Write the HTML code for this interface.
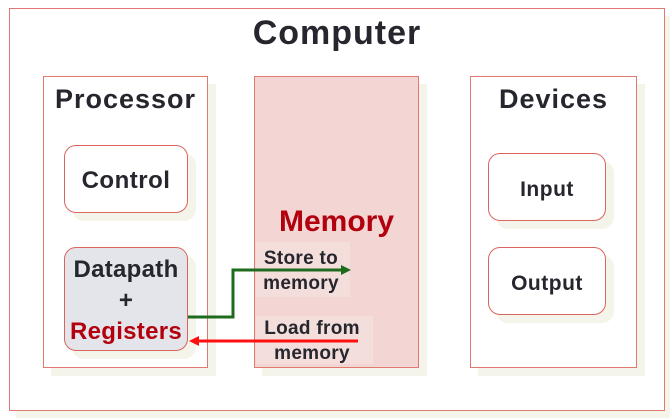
<!DOCTYPE html>
<html><head><style>
body{margin:0;width:672px;height:418px;background:#fff;position:relative;overflow:hidden;font-family:"Liberation Sans",sans-serif;font-weight:bold;color:#26262e}
.a{position:absolute;box-sizing:border-box}
.sh{background:#f4f4ea}
.bx{border:1.5px solid #e07a70;background:#fff}
.rb{border:1.5px solid #d9655d;border-radius:12px;background:#fff;text-align:center}
.t{position:absolute;text-align:center;white-space:nowrap}
</style></head><body>
<div class="a sh" style="left:16px;top:16px;width:654px;height:402px"></div>
<div class="a bx" style="left:9px;top:8px;width:656px;height:403px"></div>
<div class="t" style="left:9px;width:656px;top:14px;font-size:34px;letter-spacing:1px">Computer</div>

<div class="a sh" style="left:51px;top:84px;width:165px;height:292px"></div>
<div class="a bx" style="left:43px;top:76px;width:165px;height:292px"></div>
<div class="t" style="left:43px;width:165px;top:84px;font-size:27px;letter-spacing:1px">Processor</div>

<div class="a sh" style="left:262px;top:84px;width:165px;height:292px"></div>
<div class="a bx" style="left:254px;top:76px;width:165px;height:292px;background:#f3d6d3"></div>
<div class="a" style="left:256px;top:242px;width:94px;height:55px;background:#f4dedb"></div>
<div class="a" style="left:256px;top:316px;width:117px;height:48px;background:#f4dedb"></div>
<div class="t" style="left:254px;width:165px;top:205px;font-size:30px;color:#b3000e">Memory</div>

<div class="a sh" style="left:478px;top:84px;width:167px;height:292px"></div>
<div class="a bx" style="left:470px;top:76px;width:167px;height:292px"></div>
<div class="t" style="left:470px;width:167px;top:84px;font-size:27px;letter-spacing:1px">Devices</div>

<div class="a sh" style="left:72px;top:153px;width:124px;height:68px;border-radius:12px"></div>
<div class="a rb" style="left:64px;top:145px;width:124px;height:68px;font-size:24px;line-height:70px;letter-spacing:0.5px">Control</div>

<div class="a sh" style="left:72px;top:255px;width:124px;height:104px;border-radius:12px"></div>
<div class="a rb" style="left:64px;top:247px;width:124px;height:104px;background:#e3e5ea;font-size:24px;line-height:31px;padding-top:6px;letter-spacing:0.3px">Datapath<br>+<br><span style="color:#b3000e">Registers</span></div>

<div class="a sh" style="left:496px;top:161px;width:118px;height:68px;border-radius:12px"></div>
<div class="a rb" style="left:488px;top:153px;width:118px;height:68px;font-size:21px;line-height:71px;letter-spacing:0.5px">Input</div>
<div class="a sh" style="left:496px;top:255px;width:118px;height:68px;border-radius:12px"></div>
<div class="a rb" style="left:488px;top:247px;width:118px;height:68px;font-size:21px;line-height:71px;letter-spacing:0.5px">Output</div>

<div class="t" style="left:258px;width:86px;top:246px;font-size:19px;line-height:25px;letter-spacing:0.3px">Store to<br>memory</div>
<div class="t" style="left:256px;width:112px;top:316px;font-size:19px;line-height:25px;letter-spacing:0.3px">Load from<br>memory</div>

<svg class="a" style="left:0;top:0" width="672" height="418">
<polyline points="188,317 233,317 233,270 342,270" fill="none" stroke="#1e6b1e" stroke-width="3"/>
<polygon points="351,270 341,265 341,275" fill="#1e6b1e"/>
<line x1="358" y1="341" x2="198" y2="341" stroke="#ff1010" stroke-width="3"/>
<polygon points="189,341 199,336 199,346" fill="#ff1010"/>
</svg>
</body></html>
